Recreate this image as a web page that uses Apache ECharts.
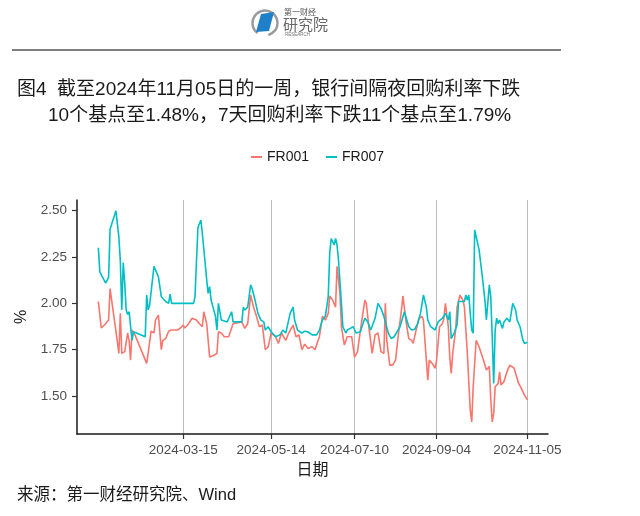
<!DOCTYPE html>
<html>
<head>
<meta charset="utf-8">
<script src="https://cdn.jsdelivr.net/npm/echarts@6/dist/echarts.min.js"></script>
<style>
html,body{margin:0;padding:0;background:#fff;}
#chart{width:640px;height:516px;}
</style>
</head>
<body>
<div id="chart"></div>
<script>
var titleLine1 = '图4  截至2024年11月05日的一周，银行间隔夜回购利率下跌';
var titleLine2 = '10个基点至1.48%，7天回购利率下跌11个基点至1.79%';
var sourceText = '来源：第一财经研究院、Wind';
var seriesNames = ['FR001', 'FR007'];
var xTickDates = ['2024-03-15', '2024-05-14', '2024-07-10', '2024-09-04', '2024-11-05'];
var yTickValues = [1.50, 1.75, 2.00, 2.25, 2.50];

var fr001Dates = ['2024-01-17','2024-01-19','2024-01-22','2024-01-24','2024-01-25','2024-01-27','2024-01-29','2024-01-31','2024-02-01','2024-02-02','2024-02-04','2024-02-06','2024-02-07','2024-02-08','2024-02-09','2024-02-11','2024-02-19','2024-02-20','2024-02-22','2024-02-24','2024-02-25','2024-02-26','2024-02-27','2024-02-29','2024-03-01','2024-03-03','2024-03-05','2024-03-06','2024-03-07','2024-03-11','2024-03-13','2024-03-15','2024-03-16','2024-03-18','2024-03-21','2024-03-24','2024-03-26','2024-03-28','2024-03-29','2024-03-31','2024-04-02','2024-04-05','2024-04-07','2024-04-08','2024-04-10','2024-04-12','2024-04-15','2024-04-18','2024-04-19','2024-04-24','2024-04-26','2024-04-28','2024-04-30','2024-05-02','2024-05-04','2024-05-06','2024-05-08','2024-05-10','2024-05-12','2024-05-14','2024-05-17','2024-05-19','2024-05-21','2024-05-24','2024-05-26','2024-05-29','2024-05-31','2024-06-02','2024-06-04','2024-06-06','2024-06-08','2024-06-11','2024-06-13','2024-06-15','2024-06-16','2024-06-18','2024-06-20','2024-06-22','2024-06-23','2024-06-25','2024-06-26','2024-06-27','2024-06-28','2024-06-30','2024-07-01','2024-07-03','2024-07-05','2024-07-08','2024-07-10','2024-07-12','2024-07-14','2024-07-17','2024-07-18','2024-07-20','2024-07-22','2024-07-24','2024-07-26','2024-07-28','2024-07-30','2024-07-31','2024-08-01','2024-08-03','2024-08-05','2024-08-07','2024-08-09','2024-08-11','2024-08-12','2024-08-14','2024-08-16','2024-08-18','2024-08-19','2024-08-21','2024-08-23','2024-08-25','2024-08-26','2024-08-28','2024-08-29','2024-08-30','2024-09-01','2024-09-03','2024-09-04','2024-09-06','2024-09-08','2024-09-09','2024-09-10','2024-09-12','2024-09-13','2024-09-14','2024-09-15','2024-09-17','2024-09-18','2024-09-20','2024-09-22','2024-09-23','2024-09-25','2024-09-27','2024-09-28','2024-09-29','2024-10-01','2024-10-03','2024-10-06','2024-10-08','2024-10-10','2024-10-11','2024-10-12','2024-10-13','2024-10-14','2024-10-16','2024-10-17','2024-10-18','2024-10-20','2024-10-22','2024-10-24','2024-10-27','2024-10-28','2024-10-30','2024-11-01','2024-11-03','2024-11-05'];
var fr001Values = [2.01,1.867,1.89,1.91,2.08,1.965,1.85,1.73,1.946,1.73,1.74,1.84,1.80,1.694,1.856,1.83,1.676,1.73,1.85,1.84,1.91,1.92,1.937,1.75,1.80,1.81,1.85,1.84,1.856,1.856,1.867,1.883,1.867,1.883,1.92,1.91,1.89,1.874,1.955,1.89,1.71,1.72,1.73,1.847,1.84,1.82,1.82,1.89,1.89,1.90,1.865,1.89,2.045,1.98,1.93,1.874,1.883,1.75,1.766,1.84,1.82,1.784,1.84,1.80,1.84,1.883,1.82,1.83,1.75,1.78,1.757,1.766,1.75,1.80,1.82,1.93,1.91,1.946,2.04,2.018,2.01,1.98,2.20,2.054,1.874,1.775,1.82,1.82,1.71,1.74,1.856,2.018,2.00,1.856,1.73,1.83,1.84,1.74,1.73,2.00,1.80,1.667,1.667,1.694,1.84,1.964,2.04,1.91,1.81,1.80,1.784,1.856,1.92,1.93,1.91,1.694,1.586,1.694,1.676,1.65,1.694,1.874,1.89,1.92,2.00,1.874,1.71,1.622,1.73,1.856,1.98,2.045,2.018,1.98,1.73,1.424,1.36,1.55,1.80,1.766,1.694,1.64,1.66,1.48,1.36,1.406,1.55,1.568,1.63,1.56,1.577,1.63,1.667,1.65,1.622,1.568,1.54,1.505,1.48];

var fr007Dates = ['2024-01-17','2024-01-18','2024-01-22','2024-01-24','2024-01-25','2024-01-29','2024-01-31','2024-02-01','2024-02-02','2024-02-03','2024-02-04','2024-02-05','2024-02-06','2024-02-07','2024-02-08','2024-02-09','2024-02-10','2024-02-11','2024-02-18','2024-02-19','2024-02-20','2024-02-21','2024-02-22','2024-02-24','2024-02-27','2024-02-29','2024-03-03','2024-03-05','2024-03-06','2024-03-07','2024-03-22','2024-03-23','2024-03-25','2024-03-27','2024-03-28','2024-03-31','2024-04-01','2024-04-02','2024-04-03','2024-04-06','2024-04-07','2024-04-08','2024-04-10','2024-04-11','2024-04-14','2024-04-15','2024-04-17','2024-04-18','2024-04-24','2024-04-25','2024-04-26','2024-04-28','2024-04-30','2024-05-01','2024-05-03','2024-05-05','2024-05-07','2024-05-09','2024-05-10','2024-05-12','2024-05-14','2024-05-17','2024-05-20','2024-05-22','2024-05-24','2024-05-27','2024-05-29','2024-05-30','2024-06-01','2024-06-04','2024-06-06','2024-06-08','2024-06-11','2024-06-14','2024-06-16','2024-06-18','2024-06-20','2024-06-22','2024-06-23','2024-06-24','2024-06-26','2024-06-27','2024-06-28','2024-06-29','2024-07-01','2024-07-02','2024-07-04','2024-07-05','2024-07-07','2024-07-09','2024-07-11','2024-07-14','2024-07-15','2024-07-17','2024-07-19','2024-07-21','2024-07-24','2024-07-26','2024-07-28','2024-07-30','2024-08-02','2024-08-04','2024-08-06','2024-08-08','2024-08-10','2024-08-13','2024-08-16','2024-08-18','2024-08-20','2024-08-22','2024-08-24','2024-08-26','2024-08-28','2024-08-29','2024-08-31','2024-09-03','2024-09-05','2024-09-08','2024-09-10','2024-09-11','2024-09-12','2024-09-13','2024-09-14','2024-09-16','2024-09-18','2024-09-19','2024-09-21','2024-09-23','2024-09-24','2024-09-25','2024-09-26','2024-09-27','2024-09-28','2024-09-29','2024-09-30','2024-10-03','2024-10-05','2024-10-07','2024-10-08','2024-10-10','2024-10-11','2024-10-12','2024-10-13','2024-10-14','2024-10-15','2024-10-16','2024-10-17','2024-10-19','2024-10-20','2024-10-22','2024-10-24','2024-10-26','2024-10-28','2024-10-29','2024-10-31','2024-11-02','2024-11-03','2024-11-05'];
var fr007Values = [2.30,2.17,2.11,2.14,2.40,2.50,2.36,2.23,1.965,2.22,2.11,1.965,1.94,1.955,1.95,1.80,1.847,1.84,1.82,2.045,1.965,1.99,1.98,2.20,2.144,2.036,2.01,2.00,2.05,2.00,2.00,2.036,2.41,2.45,2.38,2.126,2.054,2.09,2.018,1.93,1.856,2.00,1.91,1.92,1.90,1.91,1.955,1.90,1.90,1.98,1.964,1.98,2.10,2.08,2.018,1.946,1.91,1.90,1.856,1.874,1.847,1.82,1.83,1.856,1.84,1.946,1.98,1.91,1.856,1.84,1.85,1.847,1.83,1.83,1.856,1.91,1.93,2.036,2.27,2.35,2.315,2.35,2.315,2.234,2.00,1.874,1.84,1.856,1.865,1.874,1.84,1.847,1.874,1.92,1.90,1.856,1.92,2.00,1.973,1.93,1.84,1.81,1.82,1.847,1.874,1.955,1.874,1.856,1.86,1.89,1.946,2.045,1.98,1.91,1.874,1.856,1.90,1.92,1.946,1.93,1.91,1.955,1.81,1.84,1.883,2.01,2.01,2.01,2.045,2.018,2.045,1.946,1.856,1.84,2.396,2.29,2.16,2.018,1.91,2.10,2.036,1.82,1.568,1.856,1.92,1.89,1.91,1.865,1.90,1.92,1.90,2.00,1.964,1.91,1.874,1.80,1.784,1.79];

function toTime(s) { return echarts.number.parseDate(s).getTime(); }
function pairs(dates, vals) { return dates.map(function (d, i) { return [toTime(d), vals[i]]; }); }
function pad(n) { return (n < 10 ? '0' : '') + n; }
function fmtDate(v) { var d = new Date(v); return d.getFullYear() + '-' + pad(d.getMonth() + 1) + '-' + pad(d.getDate()); }

var xTicks = xTickDates.map(toTime);
var FONT = "'Liberation Sans', 'Noto Sans CJK SC', sans-serif";

var chart = echarts.init(document.getElementById('chart'), null, { renderer: 'canvas' });
chart.setOption({
  animation: false,
  backgroundColor: '#ffffff',
  color: ['#F8766D', '#00BFC4'],
  textStyle: { fontFamily: FONT },
  title: [
    { text: titleLine1, left: 17, top: 80, padding: 0, textStyle: { fontSize: 19, fontWeight: 'normal', color: '#1a1a1a', fontFamily: FONT } },
    { text: titleLine2, left: 48, top: 106, padding: 0, textStyle: { fontSize: 19, fontWeight: 'normal', color: '#1a1a1a', fontFamily: FONT } }
  ],
  legend: {
    data: seriesNames,
    left: 251, top: 150, padding: 0,
    itemWidth: 11, itemHeight: 2, itemGap: 17,
    icon: 'rect',
    textStyle: { fontSize: 14, color: '#1a1a1a', fontFamily: FONT }
  },
  graphic: [
    { type: 'line', shape: { x1: 12, y1: 50, x2: 561, y2: 50 }, style: { stroke: '#555555', lineWidth: 1.5 } },
    { type: 'arc', shape: { cx: 265, cy: 23, r: 12.5, startAngle: 2.2, endAngle: 1.3 + Math.PI * 2 }, style: { stroke: '#9a9a9a', lineWidth: 2.5, fill: null } },
    { type: 'polygon', shape: { points: [[256, 32], [261, 14], [274, 12], [269, 31]] }, style: { fill: '#1f7fc8' } },
    { type: 'text', x: 284, y: 9, style: { text: '第一财经', fontSize: 8, fill: '#555555', fontFamily: FONT } },
    { type: 'text', x: 283, y: 18, style: { text: '研究院', fontSize: 15, fill: '#666666', fontFamily: FONT } },
    { type: 'text', x: 285, y: 33, style: { text: 'RESEARCH', fontSize: 4.5, fill: '#777777', fontFamily: FONT } },
    { type: 'text', x: 17, y: 487, style: { text: sourceText, fontSize: 16.5, fill: '#1a1a1a', fontFamily: FONT } }
  ],
  grid: { left: 77, right: 92, top: 200, bottom: 82, containLabel: false },
  xAxis: {
    type: 'value',
    min: toTime('2024-01-02 10:00:00'),
    max: toTime('2024-11-19 02:00:00'),
    name: '日期',
    nameLocation: 'middle',
    nameGap: 29,
    nameTextStyle: { fontSize: 16, color: '#1a1a1a', fontFamily: FONT },
    axisLine: { show: true, lineStyle: { color: '#1a1a1a', width: 1.5 } },
    axisTick: { show: true, length: 5, customValues: xTicks, lineStyle: { color: '#333333', width: 1.2 } },
    axisLabel: {
      customValues: xTicks, margin: 10, fontSize: 13.5, color: '#4d4d4d', fontFamily: FONT,
      formatter: function (v) { return fmtDate(v); }
    },
    splitLine: { show: true, lineStyle: { color: '#bdbdbd', width: 1 } }
  },
  yAxis: {
    type: 'value',
    min: 1.295,
    max: 2.558,
    name: '%',
    nameLocation: 'middle',
    nameRotate: 90,
    nameGap: 46,
    nameTextStyle: { fontSize: 16, color: '#1a1a1a', fontFamily: FONT },
    axisLine: { show: true, lineStyle: { color: '#1a1a1a', width: 1.5 } },
    axisTick: { show: true, length: 5, customValues: yTickValues, lineStyle: { color: '#333333', width: 1.2 } },
    axisLabel: {
      customValues: yTickValues, margin: 10, fontSize: 13.5, color: '#4d4d4d', fontFamily: FONT,
      formatter: function (v) { return v.toFixed(2); }
    },
    splitLine: { show: false }
  },
  series: [
    { name: seriesNames[0], type: 'line', data: pairs(fr001Dates, fr001Values), showSymbol: false, symbol: 'none', lineStyle: { width: 1.6, color: '#F8766D' }, z: 3 },
    { name: seriesNames[1], type: 'line', data: pairs(fr007Dates, fr007Values), showSymbol: false, symbol: 'none', lineStyle: { width: 1.6, color: '#00BFC4' }, z: 4 }
  ]
});
</script>
</body>
</html>
